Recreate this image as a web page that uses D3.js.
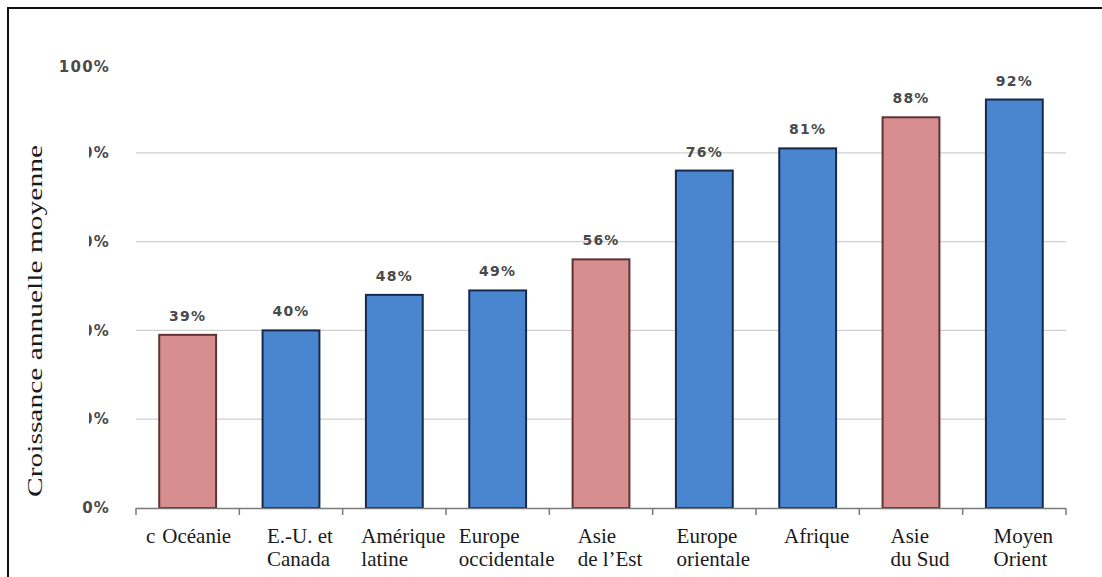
<!DOCTYPE html>
<html>
<head>
<meta charset="utf-8">
<script src="https://cdn.jsdelivr.net/npm/d3@7"></script>
<style>
	body { margin: 0; background: #fff; }
	svg { display: block; }
</style>
</head>
<body>
<div id="chart"></div>
<script>
// data
const categories = ['Océanie', 'E.-U. et Canada', 'Amérique latine', 'Europe occidentale', 'Asie de l’Est', 'Europe orientale', 'Afrique', 'Asie du Sud', 'Moyen Orient']
const labelLines = [['Océanie'], ['E.-U. et', 'Canada'], ['Amérique', 'latine'], ['Europe', 'occidentale'], ['Asie', 'de l’Est'], ['Europe', 'orientale'], ['Afrique'], ['Asie', 'du Sud'], ['Moyen', 'Orient']]
const values = [39, 40, 48, 49, 56, 76, 81, 88, 92]
const highlighted = ['Océanie', 'Asie de l’Est', 'Asie du Sud']
const yTicks = [0, 20, 40, 60, 80, 100]
const yTickLabels = ['0%', '20%', '40%', '60%', '80%', '100%']
const yTitle = 'Croissance annuelle moyenne'

const width = 1102
const height = 577
const margin = { top: 64, right: 36, bottom: 69, left: 136 }

const svg = d3.select('#chart')
	.append('svg')
	.attr('width', width)
	.attr('height', height)

svg.append('rect').attr('width', width).attr('height', height).attr('fill', '#fff')

// frame (right / bottom edges are cut off in the picture)
svg.append('rect')
	.attr('x', 8).attr('y', 8)
	.attr('width', width + 20).attr('height', height + 20)
	.attr('fill', 'none')
	.attr('stroke', '#111')
	.attr('stroke-width', 2)

const x = d3.scaleBand()
	.domain(categories)
	.range([margin.left, width - margin.right])
	.paddingInner(0.45)
	.paddingOuter(0.225)

const y = d3.scaleLinear()
	.domain([0, 100])
	.range([height - margin.bottom, margin.top])

// gridlines
svg.append('g')
	.selectAll('line')
	.data(yTicks.filter((d) => d > 0 && d < 100))
	.join('line')
	.attr('x1', x.range()[0])
	.attr('x2', x.range()[1])
	.attr('y1', (d) => y(d))
	.attr('y2', (d) => y(d))
	.attr('stroke', '#cfcfcf')
	.attr('stroke-width', 1.2)

// y tick labels, intermediate ones are half hidden under the title in the source
svg.append('defs').append('clipPath')
	.attr('id', 'cut')
	.append('rect')
	.attr('x', 89).attr('y', 0)
	.attr('width', 60).attr('height', height)

svg.append('g')
	.selectAll('text')
	.data(yTicks)
	.join('text')
	.attr('x', 110)
	.attr('y', (d) => y(d) + (d === 100 ? 3 : 0))
	.attr('dy', '0.35em')
	.attr('text-anchor', 'end')
	.attr('clip-path', (d) => (d > 0 && d < 100 ? 'url(#cut)' : null))
	.attr('font-family', 'DejaVu Sans')
	.attr('font-size', 15)
	.attr('font-weight', 600)
	.attr('letter-spacing', 1.2)
	.attr('fill', '#4a4a4a')
	.text((d, i) => yTickLabels[i])

// bars
svg.append('g')
	.selectAll('rect')
	.data(values)
	.join('rect')
	.attr('x', (d, i) => x(categories[i]))
	.attr('y', (d) => y(d))
	.attr('width', x.bandwidth())
	.attr('height', (d) => y(0) - y(d))
	.attr('fill', (d, i) => (highlighted.includes(categories[i]) ? '#d78e8e' : '#4a86d0'))
	.attr('stroke', (d, i) => (highlighted.includes(categories[i]) ? '#5e3232' : '#16294a'))
	.attr('stroke-width', 2)

// value labels
svg.append('g')
	.selectAll('text')
	.data(values)
	.join('text')
	.attr('x', (d, i) => x(categories[i]) + x.bandwidth() / 2)
	.attr('y', (d) => y(d) - 14)
	.attr('text-anchor', 'middle')
	.attr('font-family', 'DejaVu Sans')
	.attr('font-size', 14)
	.attr('font-weight', 600)
	.attr('letter-spacing', 1.2)
	.attr('fill', '#4a4a4a')
	.text((d) => d + '%')

// x axis line + ticks on band boundaries
const step = x.step()
const gap = (step - x.bandwidth()) / 2
const bounds = categories.map((c) => x(c) - gap).concat([x.range()[1]])

svg.append('line')
	.attr('x1', x.range()[0])
	.attr('x2', x.range()[1])
	.attr('y1', y(0) + 0.5)
	.attr('y2', y(0) + 0.5)
	.attr('stroke', '#7a7a7a')
	.attr('stroke-width', 1.5)

svg.append('g')
	.selectAll('line')
	.data(bounds)
	.join('line')
	.attr('x1', (d) => d)
	.attr('x2', (d) => d)
	.attr('y1', y(0))
	.attr('y2', y(0) + 7)
	.attr('stroke', '#7a7a7a')
	.attr('stroke-width', 1.5)

// category labels (serif, lines left aligned inside each block)
const labelGroups = svg.append('g')
	.attr('font-family', 'Liberation Serif')
	.attr('font-size', 21)
	.attr('fill', '#1a1a1a')
	.selectAll('g')
	.data(labelLines)
	.join('g')

labelGroups.each(function (lines, i) {
	const g = d3.select(this)
	const texts = lines.map((l, j) =>
		g.append('text').attr('y', y(0) + 35 + j * 23).text(l),
	)
	const w = d3.max(texts, (t) => t.node().getComputedTextLength())
	const cx = x(categories[i]) + x.bandwidth() / 2 + 9
	texts.forEach((t) => t.attr('x', cx - w / 2))
})

// stray fragment left of the first label in the source
svg.append('text')
	.attr('x', x.range()[0] + 10)
	.attr('y', y(0) + 35)
	.attr('font-family', 'Liberation Serif')
	.attr('font-size', 21)
	.attr('fill', '#1a1a1a')
	.text('c')

// y axis title
svg.append('text')
	.attr('transform', `translate(42, ${(y(0) + y(100)) / 2 + 35}) rotate(-90)`)
	.attr('text-anchor', 'middle')
	.attr('font-family', 'Liberation Serif')
	.attr('font-size', 20)
	.attr('textLength', 352)
	.attr('lengthAdjust', 'spacingAndGlyphs')
	.attr('fill', '#1a1a1a')
	.text(yTitle)
</script>
</body>
</html>
